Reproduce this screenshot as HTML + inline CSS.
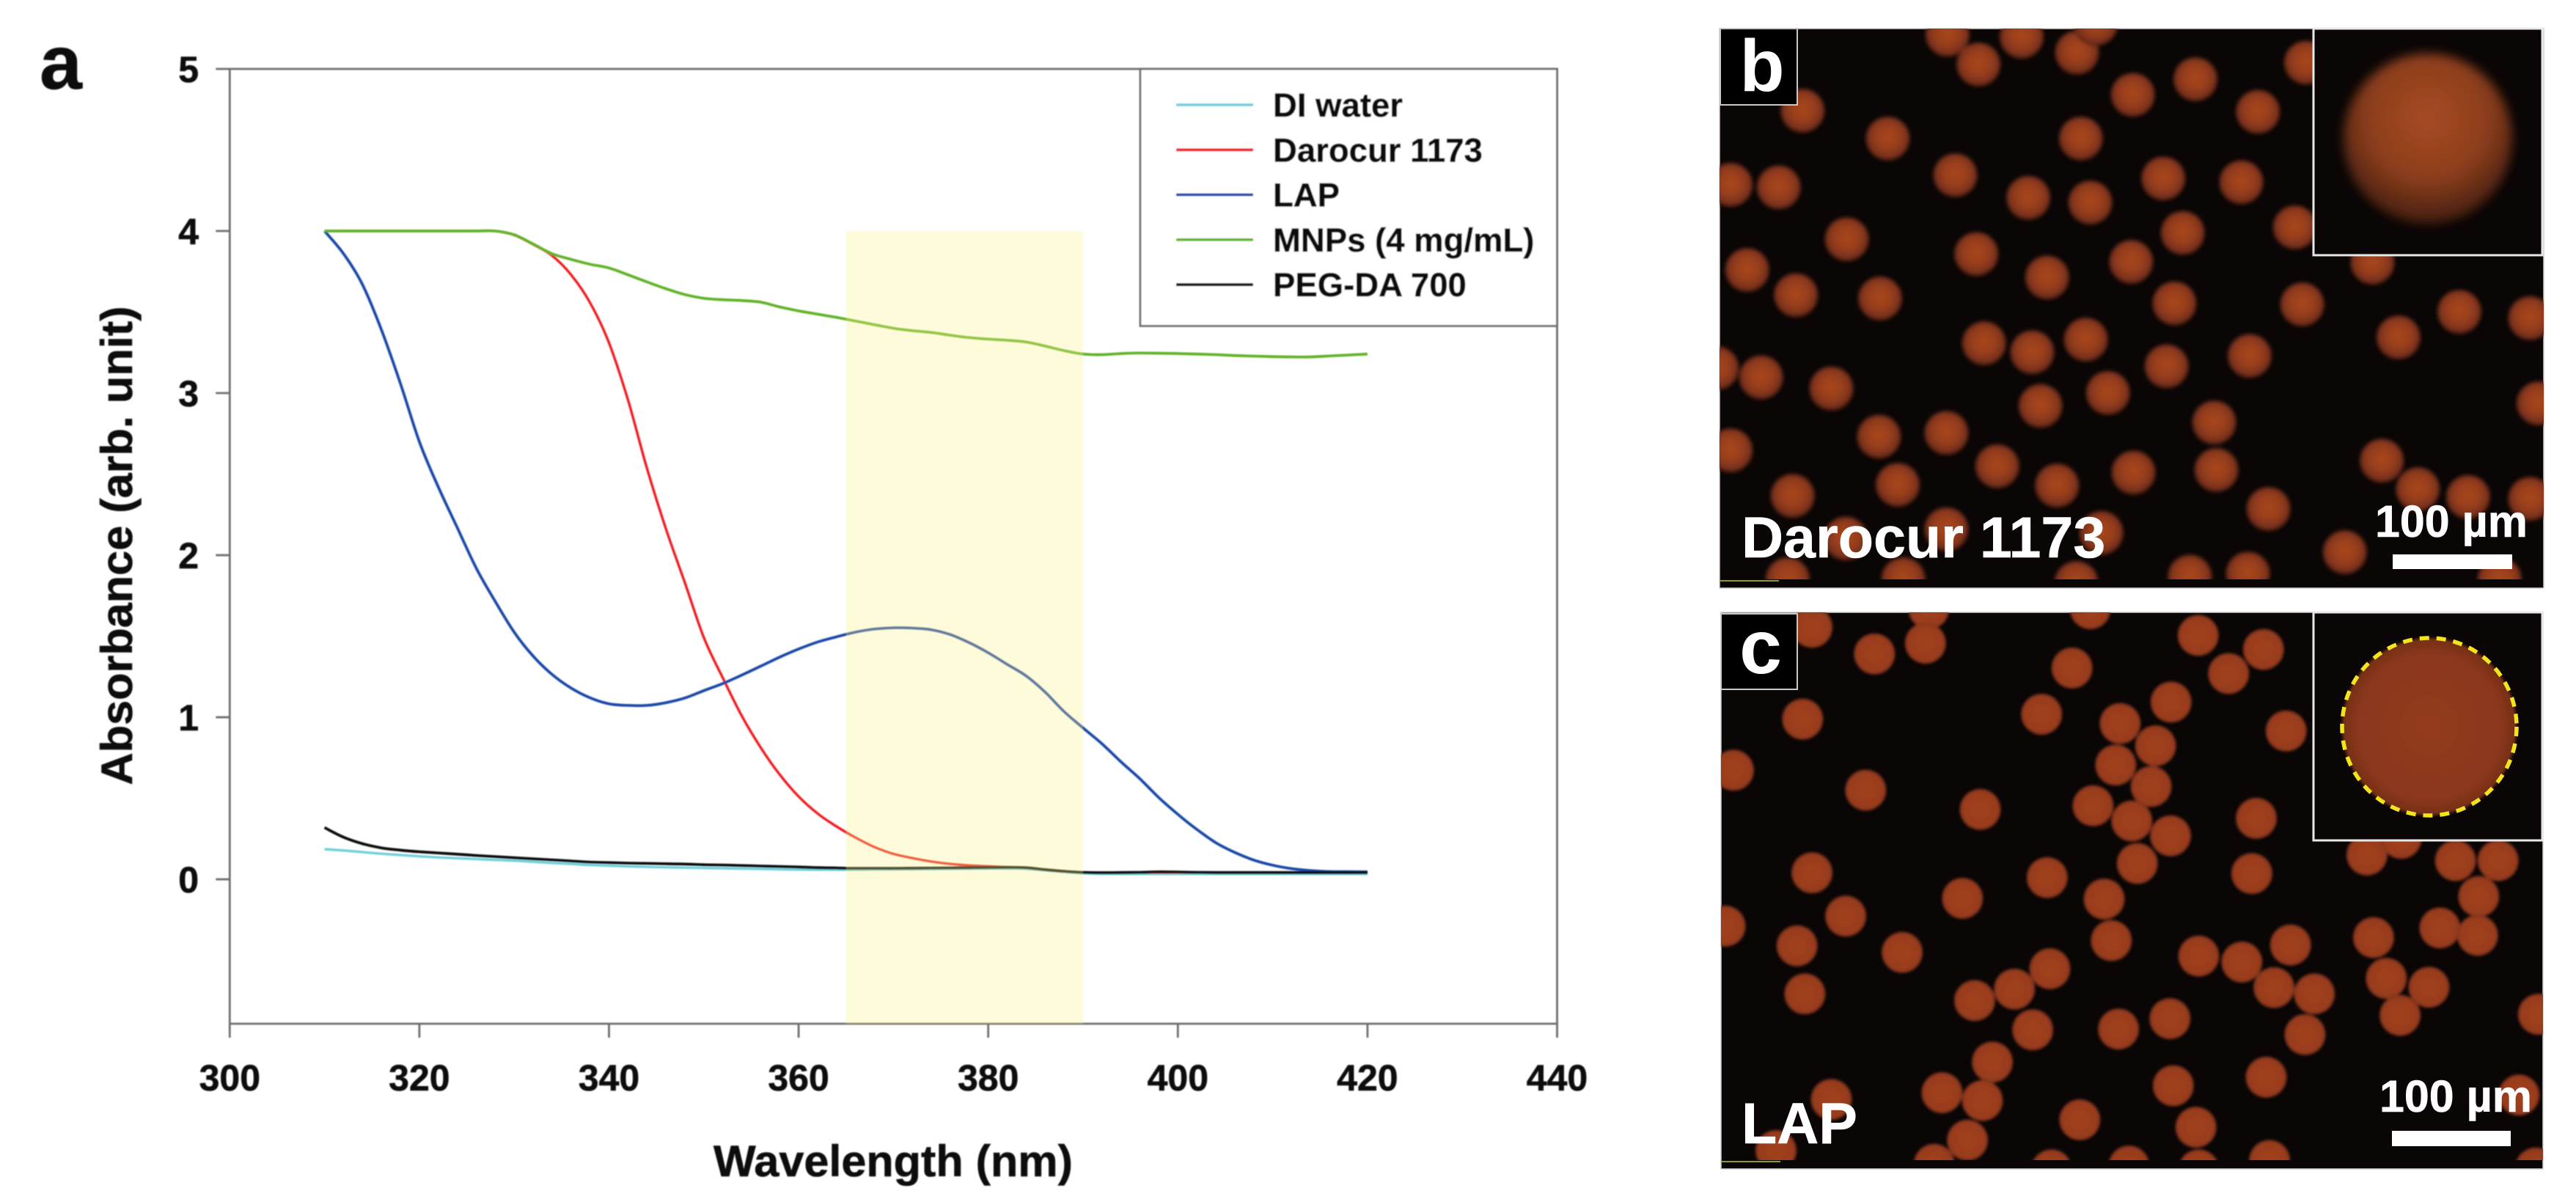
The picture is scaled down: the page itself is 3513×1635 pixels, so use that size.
<!DOCTYPE html>
<html lang="en">
<head>
<meta charset="utf-8">
<title>UV absorbance and bead micrographs</title>
<style>
html,body{margin:0;padding:0;background:#fff;width:3513px;height:1635px;overflow:hidden}
svg{display:block}
text{font-family:"Liberation Sans",Arial,sans-serif;font-weight:bold}
.ink{stroke:#0a0a0a;stroke-width:.6}
.inkw{stroke:#fff;stroke-width:.6}
</style>
</head>
<body>
<svg id="fig" xmlns="http://www.w3.org/2000/svg" width="3513" height="1635" viewBox="0 0 3513 1635">
  <defs>
    <filter id="soft" x="-5%" y="-5%" width="110%" height="110%"><feGaussianBlur stdDeviation="0.7"/></filter>
    <filter id="softB" x="-30%" y="-30%" width="160%" height="160%"><feGaussianBlur stdDeviation="2.6"/></filter>
    <filter id="softC" x="-30%" y="-30%" width="160%" height="160%"><feGaussianBlur stdDeviation="1.8"/></filter>
    <filter id="softI" x="-30%" y="-30%" width="160%" height="160%"><feGaussianBlur stdDeviation="7"/></filter>
    <radialGradient id="beadB" cx="50%" cy="46%" r="54%">
      <stop offset="0" stop-color="#a8471f"/><stop offset=".5" stop-color="#983e1d"/><stop offset=".85" stop-color="#76301a"/><stop offset="1" stop-color="#45190e"/>
    </radialGradient>
    <radialGradient id="beadC" cx="50%" cy="50%" r="52%">
      <stop offset="0" stop-color="#a2421f"/><stop offset=".8" stop-color="#983c1e"/><stop offset="1" stop-color="#7a3019"/>
    </radialGradient>
    <radialGradient id="insetB" cx="50%" cy="38%" r="64%">
      <stop offset="0" stop-color="#a84a22"/><stop offset=".55" stop-color="#8c3e1c"/><stop offset="1" stop-color="#3e1b0e"/>
    </radialGradient>
    <radialGradient id="insetC" cx="50%" cy="50%" r="52%">
      <stop offset="0" stop-color="#943b1d"/><stop offset=".8" stop-color="#8a371b"/><stop offset="1" stop-color="#702c16"/>
    </radialGradient>
    <clipPath id="clipB"><rect x="2345" y="39" width="1124" height="751"/></clipPath>
    <clipPath id="clipC"><rect x="2347" y="835" width="1121" height="747"/></clipPath>
  </defs>

  <g id="chart" filter="url(#soft)">
    <g id="axes"></g>
    <g id="lines"></g>
    <rect id="band" fill="rgb(252,241,135)" fill-opacity="0.3"/>
    <g id="legend"></g>
    <text class="ink" x="1218" y="1604" font-size="60" text-anchor="middle" textLength="490" lengthAdjust="spacingAndGlyphs" fill="#0a0a0a">Wavelength (nm)</text>
    <text class="ink" transform="translate(180,744) rotate(-90)" font-size="60" text-anchor="middle" textLength="653" lengthAdjust="spacingAndGlyphs" fill="#0a0a0a">Absorbance (arb. unit)</text>
    <text class="ink" x="54" y="121" font-size="104" fill="#0a0a0a">a</text>
  </g>

  <g>
    <rect x="2345" y="39" width="1124" height="763" fill="#0a0606" stroke="#cfcfcf" stroke-width="1.5"/>
    <g id="beadsB" clip-path="url(#clipB)" filter="url(#softB)"></g>
    <rect x="2346" y="791" width="80" height="2" fill="#8f9a2a"/>
    <rect x="3155" y="39" width="312" height="309" fill="#0a0606" stroke="#e8e8e8" stroke-width="3"/>
    <ellipse cx="3311" cy="189" rx="115" ry="116" fill="url(#insetB)" filter="url(#softI)"/>
    <rect x="2346" y="39" width="105" height="104" fill="#000" stroke="#c8c8c8" stroke-width="2"/>
    <text x="2403" y="124" font-size="100" text-anchor="middle" fill="#fff">b</text>
    <text class="inkw" x="2375" y="760" font-size="79" fill="#fff">Darocur 1173</text>
    <text class="inkw" x="3343" y="732" font-size="61" text-anchor="middle" fill="#fff">100 µm</text>
    <rect x="3263" y="756" width="163" height="20" fill="#fff"/>
  </g>

  <g>
    <rect x="2347" y="835" width="1121" height="759" fill="#0a0606" stroke="#cfcfcf" stroke-width="1.5"/>
    <g id="beadsC" clip-path="url(#clipC)" filter="url(#softC)"></g>
    <rect x="2348" y="1583" width="80" height="2" fill="#8f9a2a"/>
    <rect x="3155" y="835" width="312" height="311" fill="#0a0606" stroke="#e8e8e8" stroke-width="3"/>
    <ellipse cx="3313" cy="991" rx="119" ry="121" fill="url(#insetC)" filter="url(#softC)"/>
    <ellipse cx="3313" cy="991" rx="119" ry="121" fill="none" stroke="#f4e41c" stroke-width="5.5" stroke-dasharray="13 10"/>
    <rect x="2347" y="837" width="104" height="103" fill="#000" stroke="#c8c8c8" stroke-width="2"/>
    <text x="2401" y="918" font-size="104" text-anchor="middle" fill="#fff">c</text>
    <text class="inkw" x="2375" y="1559" font-size="79" fill="#fff">LAP</text>
    <text class="inkw" x="3349" y="1516" font-size="61" text-anchor="middle" fill="#fff">100 µm</text>
    <rect x="3262" y="1542" width="162" height="21" fill="#fff"/>
  </g>
</svg>
<script>
const wavelengths = [310,312,314,316,318,320,322,324,326,328,330,332,334,336,338,340,342,344,346,348,350,352,354,356,358,360,362,364,366,368,370,372,374,376,378,380,382,384,386,388,390,392,394,396,398,400,402,404,406,408,410,412,414,416,418,420];
const diWater = [0.186,0.178,0.168,0.158,0.15,0.142,0.135,0.13,0.125,0.12,0.115,0.108,0.101,0.095,0.088,0.084,0.08,0.077,0.074,0.072,0.07,0.068,0.066,0.064,0.062,0.06,0.059,0.059,0.059,0.06,0.061,0.062,0.063,0.064,0.065,0.066,0.066,0.064,0.055,0.045,0.037,0.033,0.033,0.033,0.033,0.033,0.033,0.033,0.033,0.033,0.033,0.033,0.033,0.033,0.033,0.033];
const darocur = [4,4,4,4,4,4,4,4,4,4,3.975,3.917,3.848,3.73,3.558,3.31,2.958,2.537,2.163,1.831,1.492,1.243,1.009,0.813,0.647,0.511,0.406,0.326,0.258,0.199,0.157,0.131,0.11,0.095,0.086,0.081,0.075,0.072,0.06,0.05,0.043,0.042,0.042,0.042,0.042,0.042,0.042,0.042,0.042,0.042,0.042,0.042,0.042,0.042,0.042,0.042];
const lap = [4,3.86,3.67,3.39,3.06,2.7,2.42,2.17,1.92,1.715,1.525,1.377,1.264,1.18,1.12,1.083,1.073,1.073,1.09,1.119,1.164,1.208,1.26,1.315,1.371,1.421,1.464,1.496,1.525,1.544,1.552,1.55,1.54,1.51,1.46,1.398,1.326,1.255,1.155,1.035,0.934,0.836,0.725,0.62,0.504,0.401,0.308,0.226,0.166,0.119,0.087,0.066,0.054,0.048,0.047,0.046];
const mnps = [4,4,4,4,4,4,4,4,4,4,3.977,3.92,3.86,3.825,3.795,3.772,3.73,3.686,3.644,3.608,3.585,3.576,3.571,3.561,3.532,3.507,3.487,3.467,3.445,3.422,3.4,3.385,3.374,3.357,3.342,3.333,3.326,3.315,3.29,3.262,3.241,3.237,3.244,3.247,3.246,3.244,3.241,3.237,3.232,3.228,3.225,3.223,3.223,3.229,3.235,3.241];
const pegda = [0.319,0.26,0.22,0.194,0.18,0.17,0.163,0.155,0.147,0.14,0.133,0.126,0.12,0.113,0.106,0.103,0.1,0.098,0.096,0.094,0.09,0.088,0.085,0.082,0.079,0.076,0.072,0.07,0.068,0.068,0.068,0.069,0.07,0.071,0.072,0.073,0.074,0.072,0.06,0.05,0.043,0.041,0.042,0.043,0.046,0.045,0.043,0.042,0.042,0.042,0.042,0.042,0.042,0.042,0.042,0.042];
const xTickValues = [300,320,340,360,380,400,420,440];
const xTickLabels = ['300','320','340','360','380','400','420','440'];
const yTickValues = [0,1,2,3,4,5];
const yTickLabels = ['0','1','2','3','4','5'];
const seriesNames = ['DI water','Darocur 1173','LAP','MNPs (4 mg/mL)','PEG-DA 700'];
const bandStart = 365;
const bandEnd = 390;
const bandTop = 4;
const yMin = -0.891;
const xMin = 300;
const xMax = 440;
const yMax = 5;

const SVGNS = 'http://www.w3.org/2000/svg';
const seriesValues = [diWater, darocur, lap, mnps, pegda];
const seriesColors = ['#6fcfdc', '#f01c20', '#1f48a8', '#62b32a', '#0c0c0c'];
const seriesWidths = [3.4, 3.4, 3.8, 3.8, 3.8];
const plotLeft = 313.3, plotRight = 2123.5, plotTop = 94, plotBottom = 1396;
function xScale(v) { return plotLeft + (v - xMin) / (xMax - xMin) * (plotRight - plotLeft); }
function yScale(v) { return plotTop + (yMax - v) / (yMax - yMin) * (plotBottom - plotTop); }
function make(tag, parent) {
  const el = document.createElementNS(SVGNS, tag);
  parent.appendChild(el);
  return el;
}
function smoothPath(xs, ys) {
  const p = xs.map((x, i) => [xScale(x), yScale(ys[i])]);
  let d = 'M' + p[0][0].toFixed(1) + ' ' + p[0][1].toFixed(1);
  for (let i = 0; i < p.length - 1; i++) {
    const a = p[Math.max(i - 1, 0)], b = p[i], c = p[i + 1], e = p[Math.min(i + 2, p.length - 1)];
    const c1x = b[0] + (c[0] - a[0]) / 6, c1y = b[1] + (c[1] - a[1]) / 6;
    const c2x = c[0] - (e[0] - b[0]) / 6, c2y = c[1] - (e[1] - b[1]) / 6;
    d += 'C' + c1x.toFixed(1) + ' ' + c1y.toFixed(1) + ' ' + c2x.toFixed(1) + ' ' + c2y.toFixed(1) + ' ' + c[0].toFixed(1) + ' ' + c[1].toFixed(1);
  }
  return d;
}

const band = document.getElementById('band');
band.setAttribute('x', xScale(bandStart));
band.setAttribute('y', yScale(bandTop));
band.setAttribute('width', xScale(bandEnd) - xScale(bandStart));
band.setAttribute('height', yScale(yMin) - yScale(bandTop));

const axes = document.getElementById('axes');
const frame = make('path', axes);


frame.setAttribute('d', 'M' + plotLeft + ' ' + plotBottom + 'V' + plotTop + 'H' + plotRight + 'V' + plotBottom + 'H' + plotLeft);
frame.setAttribute('fill', 'none');
frame.setAttribute('stroke', '#6e6e6e');
frame.setAttribute('stroke-width', '2.8');

xTickValues.forEach(function (v, i) {
  const t = make('line', axes);
  
  
  t.setAttribute('x1', xScale(v));
  t.setAttribute('x2', xScale(v));
  t.setAttribute('y1', plotBottom);
  t.setAttribute('y2', plotBottom + 19);
  t.setAttribute('stroke', '#6e6e6e');
  t.setAttribute('stroke-width', '2.8');
  const l = make('text', axes);
  
  
  l.setAttribute('class', 'ink');
  l.setAttribute('x', xScale(v));
  l.setAttribute('y', 1487);
  l.setAttribute('font-size', '50');
  l.setAttribute('text-anchor', 'middle');
  l.setAttribute('fill', '#0a0a0a');
  l.textContent = xTickLabels[i];
});
yTickValues.forEach(function (v, i) {
  const t = make('line', axes);
  
  
  t.setAttribute('x1', plotLeft - 19);
  t.setAttribute('x2', plotLeft);
  t.setAttribute('y1', yScale(v));
  t.setAttribute('y2', yScale(v));
  t.setAttribute('stroke', '#6e6e6e');
  t.setAttribute('stroke-width', '2.8');
  const l = make('text', axes);
  
  
  l.setAttribute('class', 'ink');
  l.setAttribute('x', 271);
  l.setAttribute('y', yScale(v) + 18);
  l.setAttribute('font-size', '50');
  l.setAttribute('text-anchor', 'end');
  l.setAttribute('fill', '#0a0a0a');
  l.textContent = yTickLabels[i];
});

const lines = document.getElementById('lines');
seriesValues.forEach(function (vals, i) {
  const p = make('path', lines);
  
  
  p.setAttribute('d', smoothPath(wavelengths, vals));
  p.setAttribute('fill', 'none');
  p.setAttribute('stroke', seriesColors[i]);
  p.setAttribute('stroke-width', seriesWidths[i]);
  p.setAttribute('stroke-linejoin', 'round');
});

const legend = document.getElementById('legend');
const box = make('rect', legend);


box.setAttribute('x', 1555);
box.setAttribute('y', 94);
box.setAttribute('width', 568.5);
box.setAttribute('height', 350.5);
box.setAttribute('fill', '#fff');
box.setAttribute('stroke', '#6e6e6e');
box.setAttribute('stroke-width', '2.8');
seriesNames.forEach(function (name, i) {
  const y = 143 + i * 61.3;
  const k = make('line', legend);
  
  
  k.setAttribute('x1', 1604);
  k.setAttribute('x2', 1709);
  k.setAttribute('y1', y);
  k.setAttribute('y2', y);
  k.setAttribute('stroke', seriesColors[i]);
  k.setAttribute('stroke-width', '3.8');
  const l = make('text', legend);
  
  
  l.setAttribute('class', 'ink');
  l.setAttribute('x', 1736);
  l.setAttribute('y', y + 16);
  l.setAttribute('font-size', '45.5');
  l.setAttribute('fill', '#0a0a0a');
  l.textContent = name;
});

/* Micrograph bead centres, taken from crops of the two photos */
const beadCentersB = [[432,55],[566,60],[666,103],[488,135],[700,25],[1080,130],[880,175],[767,217],[170,260],[993,263],[324,335],[673,335],[446,434],[822,443],[963,453],[40,460],[127,467],[578,495],[690,508],[1060,575],[857,590],[250,607],[484,647],[764,668],[70,690],[612,710],[1200,670],[158,758],[310,767],[842,780],[1073,783],[1357,803],[1485,820],[1247,872],[498,888],[585,912],[682,878],[978,922],[828,950],[15,955],[95,980],[222,1010],[722,1022],[600,1057],[1500,1050],[914,1102],[308,1140],[430,1130],[40,1177],[1217,1205],[522,1220],[768,1237],[918,1230],[630,1272],[1282,1282],[342,1270],[152,1300],[1373,1303],[1485,1308],[1012,1335],[248,1415],[430,1390],[710,1400],[1150,1452],[143,1525],[352,1525],[870,1518],[975,1510],[1430,1525],[665,1535]];
const beadCentersC = [[187,70],[398,20],[300,142],[392,113],[690,20],[885,92],[1003,130],[657,180],[940,195],[836,272],[170,318],[602,305],[744,330],[808,390],[1044,350],[45,456],[736,442],[800,500],[284,510],[491,562],[695,552],[765,593],[990,586],[835,633],[775,708],[187,733],[982,735],[612,746],[1190,685],[1252,640],[1350,700],[1427,700],[1392,797],[459,802],[715,804],[248,850],[30,877],[728,916],[160,930],[1322,882],[1202,908],[1390,902],[350,948],[886,958],[964,974],[1052,928],[617,992],[553,1047],[1022,1043],[1095,1060],[1225,1018],[1302,1042],[174,1060],[481,1078],[1500,1115],[834,1127],[586,1157],[741,1155],[1250,1118],[1078,1170],[513,1244],[1008,1285],[422,1327],[495,1348],[840,1308],[222,1345],[1465,1333],[671,1400],[881,1420],[468,1455],[122,1483],[408,1520],[620,1535],[760,1525],[886,1535],[1014,1510],[1495,1530]];
function drawBeads(groupId, centers, ox, oy, sx, sy, r, fill) {
  const g = document.getElementById(groupId);
  centers.forEach(function (c) {
    const e = make('circle', g);
    
    
    e.setAttribute('cx', (ox + c[0] * sx).toFixed(1));
    e.setAttribute('cy', (oy + c[1] * sy).toFixed(1));
    e.setAttribute('r', r);
    e.setAttribute('fill', fill);
  });
}
drawBeads('beadsB', beadCentersB, 2330, 20, 0.7545, 0.505, 30, 'url(#beadB)');
drawBeads('beadsC', beadCentersC, 2330, 820, 0.7545, 0.505, 28, 'url(#beadC)');
</script>
</body>
</html>
